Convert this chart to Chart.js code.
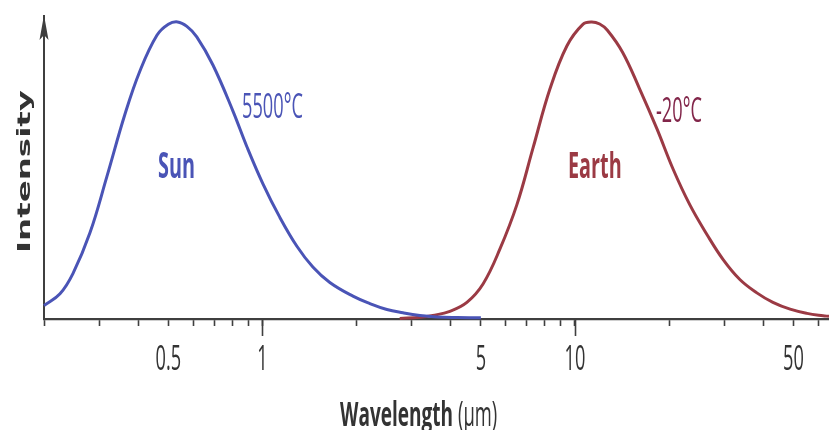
<!DOCTYPE html>
<html>
<head>
<meta charset="utf-8">
<title>Blackbody emission: Sun and Earth</title>
<script src="https://cdn.jsdelivr.net/npm/chart.js@4.4.1/dist/chart.umd.min.js"></script>
<style>
  html, body { margin: 0; padding: 0; background: #ffffff; }
  #wrap { width: 829px; height: 430px; }
</style>
</head>
<body>
<div id="wrap"><canvas id="chart" width="829" height="430"></canvas></div>
<script>
// Wavelength in micrometres, relative intensity (peak = 1)
const sunWavelength = [0.2, 0.225, 0.2475, 0.2806, 0.318, 0.3633, 0.4055, 0.4596, 0.5, 0.535, 0.573, 0.6164, 0.6943, 0.8047, 0.8918, 1.0037, 1.137, 1.289, 1.45, 1.643, 1.948, 2.208, 2.502, 2.816, 3.19, 3.62, 4.2, 5.0];
const sunIntensity  = [0.045, 0.085, 0.153, 0.290, 0.480, 0.690, 0.835, 0.955, 0.992, 1.0, 0.985, 0.950, 0.855, 0.700, 0.580, 0.455, 0.342, 0.245, 0.175, 0.123, 0.077, 0.052, 0.032, 0.021, 0.012, 0.007, 0.005, 0.004];

const earthWavelength = [2.75, 3.2, 3.51, 3.98, 4.51, 5.08, 5.75, 6.52, 7.34, 8.32, 9.43, 10.6, 11.3, 12.0, 12.7, 14.2, 16.1, 18.3, 20.6, 23.3, 26.5, 29.8, 33.7, 38.2, 43.0, 48.8, 55.3, 62.2, 65];
const earthIntensity  = [0.002, 0.006, 0.012, 0.026, 0.056, 0.118, 0.235, 0.385, 0.575, 0.775, 0.920, 0.992, 1.0, 0.993, 0.972, 0.898, 0.775, 0.640, 0.505, 0.385, 0.283, 0.200, 0.133, 0.088, 0.056, 0.033, 0.019, 0.011, 0.009];

// Axis ticks
const tickMarks  = [0.2, 0.3, 0.4, 0.5, 0.6, 0.7, 0.8, 0.9, 1, 2, 3, 4, 5, 6, 7, 8, 9, 10, 20, 30, 40, 50, 60];
const longTicks  = [1, 10];
const tickLabels = [0.5, 1, 5, 10, 50];

const SUN_COLOR = '#4a54b6';
const EARTH_COLOR = '#9b3a44';
const AXIS_COLOR = '#3f3f3f';

// Draws text squeezed horizontally to imitate a condensed face
function drawCondensed(ctx, text, x, y, font, color, sx, align) {
  ctx.save();
  ctx.font = font;
  ctx.fillStyle = color;
  ctx.textAlign = 'left';
  ctx.textBaseline = 'alphabetic';
  const w = ctx.measureText(text).width * sx;
  const left = align === 'center' ? x - w / 2 : (align === 'right' ? x - w : x);
  ctx.translate(left, y);
  ctx.scale(sx, 1);
  ctx.fillText(text, 0, 0);
  ctx.restore();
  return w;
}

const decorations = {
  id: 'decorations',
  afterDraw(chart) {
    const ctx = chart.ctx;
    const xs = chart.scales.x;
    const area = chart.chartArea;
    const base = area.bottom;

    // longer decade ticks
    ctx.save();
    ctx.strokeStyle = AXIS_COLOR;
    ctx.lineWidth = 1.6;
    longTicks.forEach(v => {
      const px = Math.round(xs.getPixelForValue(v)) + 0.5;
      ctx.beginPath();
      ctx.moveTo(px, base);
      ctx.lineTo(px, base + 17);
      ctx.stroke();
    });
    ctx.restore();

    // arrow head on the intensity axis
    const ax = area.left;
    ctx.save();
    ctx.fillStyle = AXIS_COLOR;
    ctx.beginPath();
    ctx.moveTo(ax, 15);
    ctx.lineTo(ax + 4.5, 40);
    ctx.lineTo(ax, 35);
    ctx.lineTo(ax - 4.5, 40);
    ctx.closePath();
    ctx.fill();
    ctx.restore();

    // tick labels
    tickLabels.forEach(v => {
      drawCondensed(ctx, String(v), xs.getPixelForValue(v), 370, '35px "Open Sans"', '#333333', 0.52, 'center');
    });

    // axis titles
    const w = drawCondensed(ctx, 'Wavelength', 340, 426, 'bold 34px "Open Sans"', '#333333', 0.56, 'left');
    drawCondensed(ctx, '(µm)', 340 + w + 5, 426, '34px "Open Sans"', '#333333', 0.54, 'left');

    ctx.save();
    ctx.translate(30, 171.5);
    ctx.rotate(-Math.PI / 2);
    ctx.font = 'bold 18px "DejaVu Sans"';
    ctx.fillStyle = '#333333';
    ctx.textBaseline = 'alphabetic';
    const tw = ctx.measureText('Intensity').width;
    const sx = 163 / tw;
    ctx.scale(sx, 1);
    ctx.fillText('Intensity', -tw / 2, 0);
    ctx.restore();

    // curve labels
    drawCondensed(ctx, 'Sun', 158, 178, 'bold 36px "Open Sans"', SUN_COLOR, 0.55, 'left');
    drawCondensed(ctx, '5500°C', 242, 118, '35px "Open Sans"', SUN_COLOR, 0.52, 'left');
    drawCondensed(ctx, 'Earth', 568, 178, 'bold 36px "Open Sans"', EARTH_COLOR, 0.55, 'left');
    drawCondensed(ctx, '-20°C', 656, 122, '35px "Open Sans"', '#82264a', 0.52, 'left');
  }
};

const toPoints = (xs, ys) => xs.map((x, i) => ({ x, y: ys[i] }));

new Chart(document.getElementById('chart'), {
  type: 'line',
  data: {
    datasets: [
      {
        label: 'Sun',
        data: toPoints(sunWavelength, sunIntensity),
        borderColor: SUN_COLOR,
        borderWidth: 3,
        pointRadius: 0,
        tension: 0.4,
        fill: false,
        clip: 6
      },
      {
        label: 'Earth',
        data: toPoints(earthWavelength, earthIntensity),
        borderColor: EARTH_COLOR,
        borderWidth: 3,
        pointRadius: 0,
        tension: 0.4,
        fill: false,
        clip: 6
      }
    ]
  },
  options: {
    responsive: false,
    animation: false,
    devicePixelRatio: 1,
    layout: { padding: { left: 44, right: 0, top: 16, bottom: 104 } },
    plugins: { legend: { display: false }, tooltip: { enabled: false } },
    scales: {
      x: {
        type: 'logarithmic',
        min: 0.2,
        max: 65,
        afterBuildTicks: (scale) => { scale.ticks = tickMarks.map(v => ({ value: v })); },
        ticks: { display: false },
        grid: { display: true, drawOnChartArea: false, drawTicks: true, tickLength: 7, tickColor: AXIS_COLOR, tickWidth: 1.6 },
        border: { display: true, color: AXIS_COLOR, width: 2.2 }
      },
      y: {
        type: 'linear',
        min: 0,
        max: 1.02,
        ticks: { display: false },
        grid: { display: false, drawTicks: false },
        border: { display: true, color: AXIS_COLOR, width: 2 }
      }
    }
  },
  plugins: [decorations]
});
</script>
</body>
</html>
